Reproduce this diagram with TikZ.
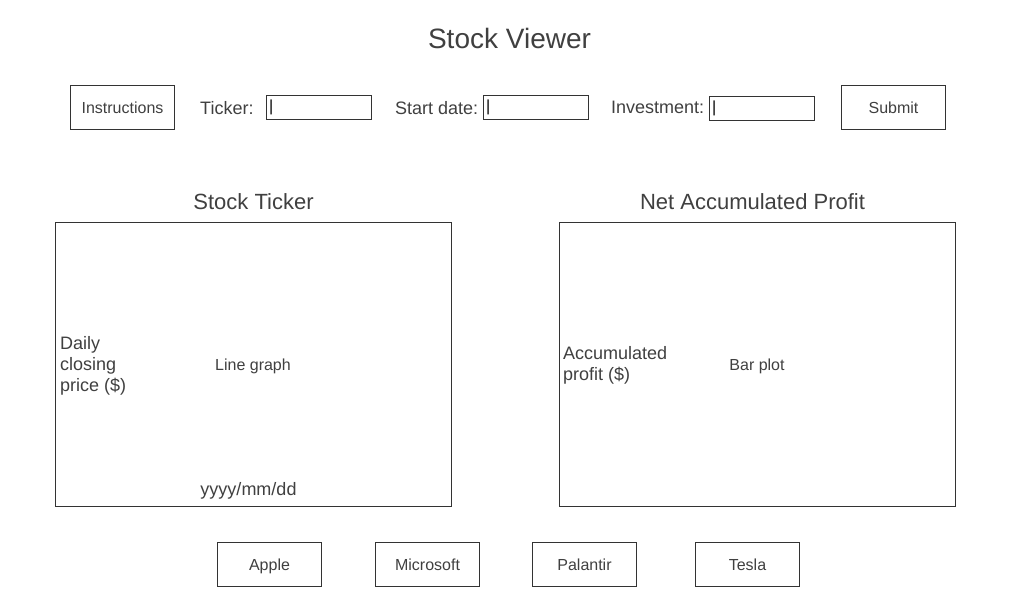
\documentclass[tikz,border=0pt]{standalone}
\usepackage{fontspec}
\setmainfont{Liberation Sans}
\definecolor{txt}{HTML}{404040}
\definecolor{bord}{HTML}{333333}
\tikzset{
  btn/.style={draw=bord, line width=1pt, minimum width=104pt, minimum height=44pt, inner sep=0pt, text=txt, text height=11.6pt, text depth=0pt, font=\fontsize{16}{19}\selectfont},
  inbox/.style={draw=bord, line width=1pt, minimum width=105pt, minimum height=24pt, inner sep=0pt},
  lbl/.style={text=txt, inner sep=0pt, font=\fontsize{18}{21}\selectfont},
  cursor/.style={text=black, inner sep=0pt, anchor=west, font=\fontsize{16}{19}\selectfont},
  panel/.style={draw=bord, line width=1pt, minimum width=396pt, minimum height=284pt, inner sep=0pt},
  head/.style={text=txt, inner sep=0pt, font=\fontsize{22}{26}\selectfont},
  small/.style={text=txt, inner sep=0pt, text height=11.6pt, text depth=0pt, font=\fontsize{16}{19}\selectfont},
}
\begin{document}
\begin{tikzpicture}[x=1pt,y=-1pt]
\useasboundingbox[fill=white] (0,0) rectangle (1024,600);
\node[text=txt, inner sep=0pt, font=\fontsize{28}{33}\selectfont] (title) at (509.5,38) {Stock Viewer};
% top row
\node[btn] (instr) at (122.5,107.5) {Instructions};
\node[lbl, anchor=west] (tickl) at (200,108) {Ticker:};
\node[inbox] (tickin) at (319,107.5) {};
\node[cursor] (tickc) at ([xshift=3pt]tickin.west) {|};
\node[lbl, anchor=west] (startl) at (395,108) {Start date:};
\node[inbox] (startin) at (536,107.5) {};
\node[cursor] (startc) at ([xshift=3pt]startin.west) {|};
\node[lbl, anchor=west] (invl) at (611,107) {Investment:};
\node[inbox] (invin) at (762,108.5) {};
\node[cursor] (invc) at ([xshift=3pt]invin.west) {|};
\node[btn] (submit) at (893.5,107.5) {Submit};
% panels
\node[head] (lhead) at (253.5,202) {Stock Ticker};
\node[panel] (lpanel) at (253.5,364.5) {};
\node[lbl, anchor=west, align=left] (ly) at (60,366) {Daily\\closing\\price (\$)};
\node[small] (lg) at (253,365) {Line graph};
\node[lbl] (lx) at (248.5,490.5) {yyyy/mm/dd};
\node[head] (rhead) at (752.5,202) {Net Accumulated Profit};
\node[panel] (rpanel) at (757.5,364.5) {};
\node[lbl, anchor=west, align=left] (ry) at (563,365) {Accumulated\\profit (\$)};
\node[small] (bp) at (757,365) {Bar plot};
% bottom buttons
\node[btn] (apple) at (269.5,564.5) {Apple};
\node[btn] (msft) at (427.5,564.5) {Microsoft};
\node[btn] (pltr) at (584.5,564.5) {Palantir};
\node[btn] (tsla) at (747.5,564.5) {Tesla};
\end{tikzpicture}
\end{document}
